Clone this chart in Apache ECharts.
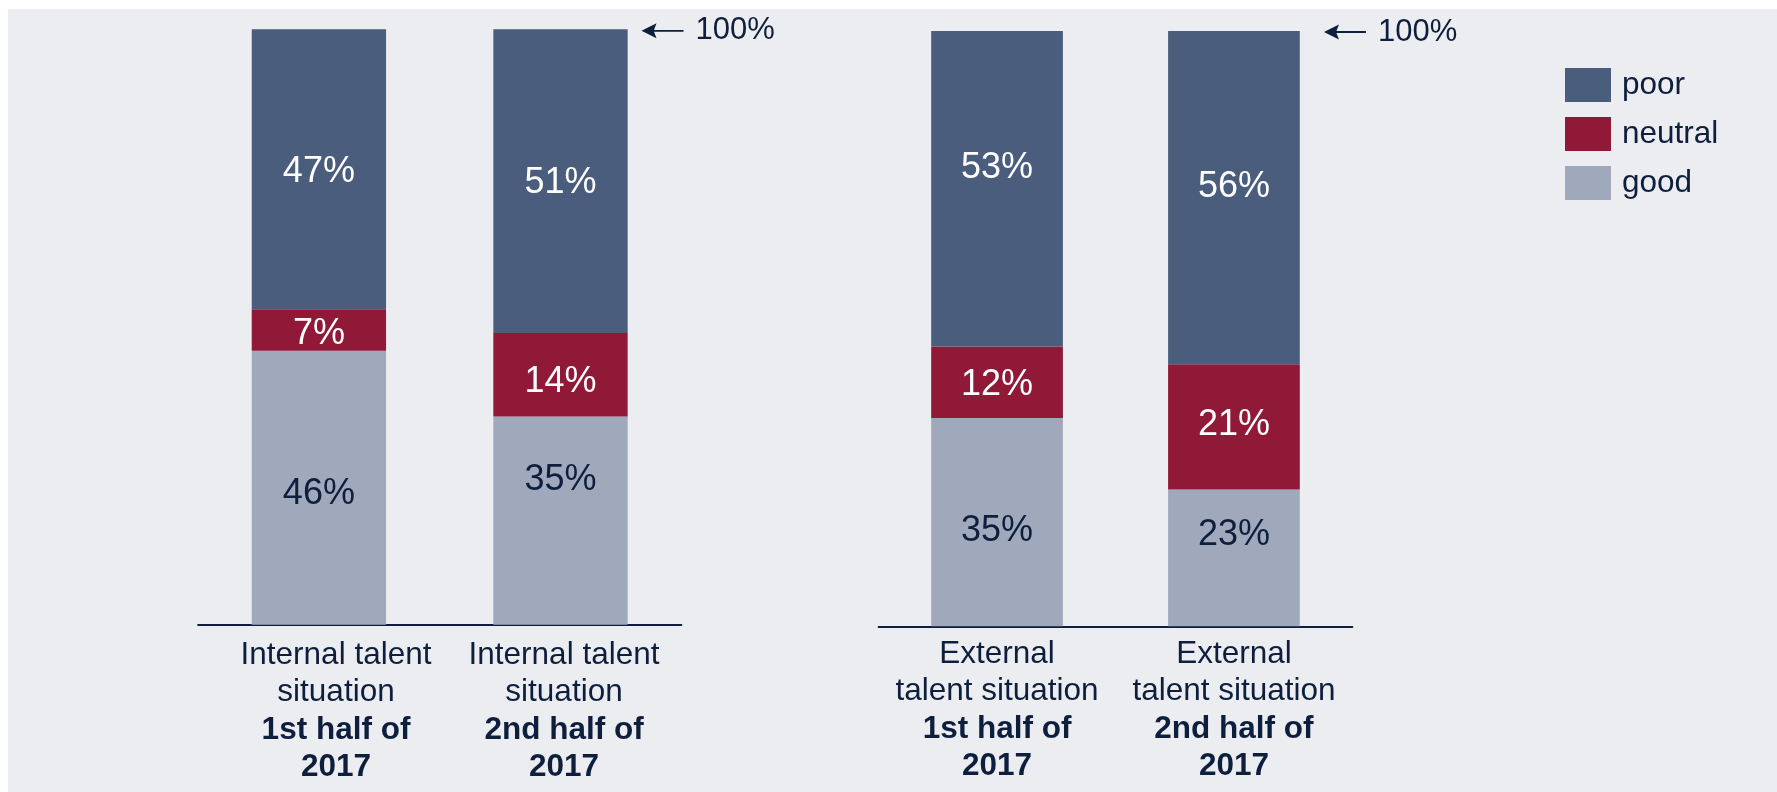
<!DOCTYPE html>
<html>
<head>
<meta charset="utf-8">
<script src="https://cdn.jsdelivr.net/npm/echarts@6/dist/echarts.min.js"></script>
<style>
  html, body { margin: 0; padding: 0; background: #ffffff; }
  #panel { position: absolute; left: 8px; top: 9px; right: 0; bottom: 0; background: #ECEDF1; }
  #chart { position: absolute; left: 0; top: 0; width: 1777px; height: 792px; }
</style>
</head>
<body>
<div id="panel"></div>
<div id="chart"></div>
<script>
// Survey shares (%) for each half-year period
const periods = ['1st half of\n2017', '2nd half of\n2017'];
const internalTopic = 'Internal talent\nsituation';
const externalTopic = 'External\ntalent situation';

const internalPoor = [47, 51];
const internalNeutral = [7, 14];
const internalGood = [46, 35];

const externalPoor = [53, 56];
const externalNeutral = [12, 21];
const externalGood = [35, 23];

const legendNames = ['poor', 'neutral', 'good'];

// Styling
const NAVY = '#0E1F3D';
const COLORS = { poor: '#4A5D7D', neutral: '#8F1937', good: '#A0A9BC' };
const FONT = '"Liberation Sans", Arial, sans-serif';

// Vertical nudges of the value labels inside the segments (px)
const labelNudge = {
  internal: { poor: [3, 2], neutral: [4, 7], good: [6, -41] },
  external: { poor: [-21, -11], neutral: [3, -2], good: [9, -23] }
};

function items(values, nudges) {
  return values.map((v, i) => ({ value: v, label: { offset: [0, nudges[i]] } }));
}

function total(a, b, c, i) { return a[i] + b[i] + c[i]; }

function segment(name, values, group, gridIdx, stack, extra) {
  return Object.assign({
    name: name,
    type: 'bar',
    stack: stack,
    xAxisIndex: gridIdx,
    yAxisIndex: gridIdx,
    barWidth: '55.6%',
    itemStyle: { color: COLORS[name] },
    emphasis: { disabled: true },
    label: {
      show: true,
      position: 'inside',
      formatter: '{c}%',
      fontFamily: FONT,
      fontSize: 36,
      color: name === 'good' ? NAVY : '#ffffff'
    },
    data: items(values, labelNudge[group][name])
  }, extra || {});
}

// Arrow pointing left at the 100% level
const arrowPath = 'path://M0,7.5 L15,0 L12.5,6.6 L42,6.6 L42,8.4 L12.5,8.4 L15,15 Z';

function fullMark(total, offset, dist) {
  return {
    markPoint: {
      silent: true,
      symbol: arrowPath,
      symbolSize: [42, 15],
      symbolKeepAspect: false,
      symbolOffset: offset,
      itemStyle: { color: NAVY },
      label: {
        show: true,
        position: 'right',
        distance: dist,
        formatter: total + '%',
        fontFamily: FONT,
        fontSize: 31,
        color: NAVY
      },
      data: [{ coord: [1, total] }]
    }
  };
}

function topicFormatter(topic) {
  return function (value) {
    const top = topic.split('\n').map(s => '{n|' + s + '}');
    const bottom = value.split('\n').map(s => '{b|' + s + '}');
    return top.concat(bottom).join('\n');
  };
}

const richLabel = {
  n: { fontFamily: FONT, fontSize: 31.5, lineHeight: 37.5, color: NAVY },
  b: { fontFamily: FONT, fontSize: 31.5, lineHeight: 37.5, color: NAVY, fontWeight: 'bold' }
};

const grids = [
  { left: 198.1, top: 29.3, width: 483.2, height: 595.5 },  // internal bars + baseline
  { left: 878.6, top: 31, width: 473.8, height: 595.3 },    // external bars + baseline + labels
  { left: 222, top: 29.3, width: 456, height: 596 }         // internal labels
];

const xAxes = [
  {
    gridIndex: 0, type: 'category', data: periods,
    axisLine: { show: true, lineStyle: { color: NAVY, width: 2 } },
    axisTick: { show: false }, axisLabel: { show: false }
  },
  {
    gridIndex: 1, type: 'category', data: periods,
    axisLine: { show: true, lineStyle: { color: NAVY, width: 2 } },
    axisTick: { show: false },
    axisLabel: { interval: 0, margin: 9, formatter: topicFormatter(externalTopic), rich: richLabel }
  },
  {
    gridIndex: 2, type: 'category', data: periods,
    axisLine: { show: false }, axisTick: { show: false },
    axisLabel: { interval: 0, margin: 11, formatter: topicFormatter(internalTopic), rich: richLabel }
  }
];

const yAxes = grids.map((g, i) => ({ gridIndex: i, type: 'value', min: 0, max: 100, show: false }));

const internalTotal = total(internalPoor, internalNeutral, internalGood, 1);
const externalTotal = total(externalPoor, externalNeutral, externalGood, 1);

const series = [
  segment('good', internalGood, 'internal', 0, 'internal'),
  segment('neutral', internalNeutral, 'internal', 0, 'internal'),
  segment('poor', internalPoor, 'internal', 0, 'internal', fullMark(internalTotal, [102, 1.5], 12)),
  segment('good', externalGood, 'external', 1, 'external'),
  segment('neutral', externalNeutral, 'external', 1, 'external'),
  segment('poor', externalPoor, 'external', 1, 'external', fullMark(externalTotal, [111, 1], 12))
];

const chart = echarts.init(document.getElementById('chart'), null, { renderer: 'canvas' });
chart.setOption({
  backgroundColor: 'transparent',
  animation: false,
  textStyle: { fontFamily: FONT },
  legend: {
    data: legendNames,
    orient: 'vertical',
    left: 1565,
    top: 68,
    padding: 0,
    icon: 'rect',
    itemWidth: 46,
    itemHeight: 34,
    itemGap: 15,
    selectedMode: false,
    textStyle: { fontFamily: FONT, fontSize: 31.5, color: NAVY, padding: [0, 0, 0, 6], lineHeight: 34 }
  },
  grid: grids,
  xAxis: xAxes,
  yAxis: yAxes,
  series: series
});
</script>
</body>
</html>
